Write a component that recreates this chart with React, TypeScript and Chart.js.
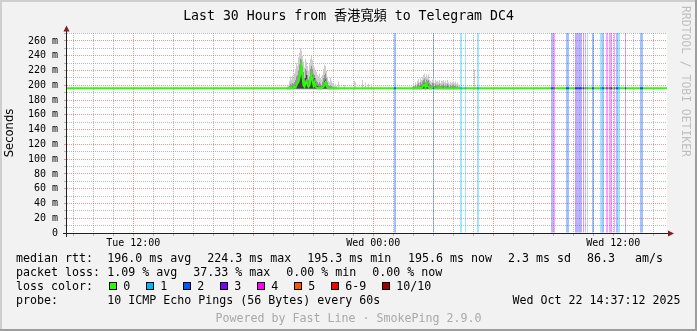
import React, { useEffect, useRef } from 'react';
import { Chart, registerables } from 'chart.js';
Chart.register(...registerables);

// ---------- text ----------
const TITLE = 'Last 30 Hours from 香港寬頻 to Telegram DC4';
const Y_TITLE = 'Seconds';
const WATERMARK = 'RRDTOOL / TOBI OETIKER';
const POWERED = 'Powered by Fast Line · SmokePing 2.9.0';

// ---------- time axis (hours since Tue 00:00) ----------
const T_START = 8.685;
const T_END = 38.685;
const STEP_H = 0.05; // one RRD step = 3 minutes
const xTickHours = [12, 24, 36];
const xTickLabels = ['Tue 12:00', 'Wed 00:00', 'Wed 12:00'];

// ---------- value axis (milliseconds) ----------
const Y_MAX = 270.8;
const yLabelStep = 20;
const yGridStep = 10;

const MEDIAN_BASE = 196;
const SMOKE_BASE = 194;

// smoke burst 1 (starting RRD step index)
const smoke1Start = 220;
const smoke1Hi = [198,200,206,212,208,213,210,216,222,230,226,238,244,250,247,240,232,224,236,232,226,220,228,236,240,234,228,224,220,218,214,212,216,210,208,214,222,228,226,220,212,206,204,210,206,203,202,200,202,199];
const smoke1Mid = [197,197,199,202,201,203,202,204,207,212,214,220,228,236,234,226,218,210,222,220,214,208,212,222,226,222,216,214,210,206,204,202,204,202,200,204,210,214,216,210,204,200,199,200,199,198,198,197,197,197];
const smoke1Core = [196,196,196,197,197,198,197,198,200,202,204,208,214,224,228,216,206,202,210,214,206,202,204,212,218,214,208,210,204,200,199,198,199,198,197,199,202,206,208,202,199,197,197,197,196,196,196,196,196,196];
const smoke1Median = [196,196,196,196,197,196,196,198,197,200,203,205,210,218,226,212,200,198,204,206,201,198,200,208,214,206,200,204,198,197,196,196,197,196,196,197,198,202,204,199,197,196,196,196,196,196,196,196,196,196];

// smoke burst 2
const smoke2Start = 345;
const smoke2Hi = [198,202,200,204,201,206,209,204,210,207,211,214,216,210,215,212,215,208,206,204,208,209,203,207,205,206,204,207,203,206,205,207,204,206,203,207,204,202,205,203,204,206,203,205,202,204,201,199];
const smoke2Mid = [197,199,198,200,198,201,203,200,204,202,205,207,209,204,208,206,207,203,201,200,203,203,199,202,200,201,200,202,199,201,200,202,199,201,199,202,200,198,200,199,200,201,199,200,198,199,197,197];
const smoke2Core = [196,197,196,197,196,197,198,197,199,198,200,202,203,199,202,201,201,198,197,197,198,198,197,198,197,197,197,198,196,197,197,198,196,197,196,198,197,196,197,196,197,197,196,197,196,196,196,196];
const smoke2Median = [196,196,196,196,196,196,197,196,197,196,198,200,201,197,202,199,198,196,196,196,197,197,196,196,196,196,196,197,196,196,196,196,196,196,196,196,196,196,196,196,196,196,196,196,196,196,196,196];

// isolated light smoke spikes
const sparkSteps = [271, 277, 287, 288, 295, 298, 301, 304, 407];
const sparkHi = [205, 200, 206, 204, 207, 204, 202, 202, 221];

// packet loss events (RRD step index, loss level index)
const lossSteps = [327,328,366,393,394,398,410,411,484,485,486,487,499,500,501,508,509,510,511,512,513,514,516,518,520,525,526,533,534,535,536,539,540,542,543,544,547,549,550,551,552,558,573,574,575];
const lossLevels = [2,2,2,1,1,1,1,1,2,2,4,4,2,2,2,3,3,2,2,3,3,2,3,4,1,2,2,1,1,2,2,4,4,4,4,3,4,2,2,1,1,3,2,2,2];

const lossColors = ['#26ff00', '#00b8ff', '#0059ff', '#7e00ff', '#ff00ff', '#ff5500', '#ff0000', '#a10000'];
const lossLabels = ['0', '1', '2', '3', '4', '5', '6-9', '10/10'];

// legend text
const rttLabel = 'median rtt:';
const rttItems = ['196.0 ms avg', '224.3 ms max', '195.3 ms min', '195.6 ms now', '2.3 ms sd', '86.3', 'am/s'];
const lossLabel = 'packet loss:';
const lossItems = ['1.09 % avg', '37.33 % max', '0.00 % min', '0.00 % now'];
const lossColorLabel = 'loss color:';
const probeLabel = 'probe:';
const probeText = '10 ICMP Echo Pings (56 Bytes) every 60s';
const stampText = 'Wed Oct 22 14:37:12 2025';

// ---------- layout / styles ----------
const MONO = '"DejaVu Sans Mono", "Noto Sans CJK TC", monospace';
const GRID_MINOR = 'rgba(140,140,140,0.6)';
const GRID_MAJOR = 'rgba(222,79,79,0.6)';
const ARROW = '#801f1f';
const AXIS = '#202020';
const rttX = [107.3, 207.3, 307.3, 408, 508, 587, 635];
const lossX = [107.3, 193.3, 286.3, 372.3];

const stepTime = (k: number) => T_START + (k + 0.5) * STEP_H;
const floatBars = (start: number, arr: number[], base: number) =>
  arr.map((v, i) => ({ x: stepTime(start + i), y: [base, v] }));
const withAlpha = (hex: string, a: string) => hex + a;

const decorPlugin = {
  id: 'rrdDecor',
  beforeDraw(chart: any) {
    const { ctx, chartArea: a, width, height } = chart;
    ctx.save();
    ctx.fillStyle = '#f2f2f2';
    ctx.fillRect(0, 0, width, height);
    ctx.fillStyle = '#ffffff';
    ctx.fillRect(a.left, a.top, a.right - a.left, a.bottom - a.top);
    ctx.restore();
  },
  afterDraw(chart: any) {
    const { ctx, chartArea: a, width, height } = chart;
    ctx.save();
    // axes
    ctx.strokeStyle = AXIS;
    ctx.lineWidth = 1;
    ctx.beginPath();
    ctx.moveTo(a.left - 4, a.bottom + 0.5);
    ctx.lineTo(a.right + 1, a.bottom + 0.5);
    ctx.moveTo(a.left - 0.5, a.bottom + 4);
    ctx.lineTo(a.left - 0.5, a.top - 2);
    ctx.stroke();
    // arrows
    ctx.fillStyle = ARROW;
    ctx.beginPath();
    ctx.moveTo(a.left - 3.5, a.top - 1.5);
    ctx.lineTo(a.left + 2.5, a.top - 1.5);
    ctx.lineTo(a.left - 0.5, a.top - 7.5);
    ctx.closePath();
    ctx.fill();
    ctx.beginPath();
    ctx.moveTo(a.right + 1, a.bottom - 2.5);
    ctx.lineTo(a.right + 1, a.bottom + 3.5);
    ctx.lineTo(a.right + 7, a.bottom + 0.5);
    ctx.closePath();
    ctx.fill();

    // title
    ctx.fillStyle = '#000';
    ctx.font = '13.2px ' + MONO;
    ctx.textAlign = 'center';
    ctx.textBaseline = 'alphabetic';
    ctx.fillText(TITLE, width / 2, 20);

    // watermark
    ctx.save();
    ctx.translate(685, 6);
    ctx.rotate(Math.PI / 2);
    ctx.font = '11.4px ' + MONO;
    ctx.fillStyle = '#bfbfbf';
    ctx.textAlign = 'left';
    ctx.textBaseline = 'middle';
    ctx.fillText(WATERMARK, 0, 0);
    ctx.restore();

    // legend
    const X0 = 16;
    const XV = 107.3;
    const CW = 7.0;
    ctx.font = '11.63px ' + MONO;
    ctx.textAlign = 'left';
    ctx.textBaseline = 'alphabetic';
    ctx.fillStyle = '#000';
    const rowY = [262, 276, 290, 304];
    ctx.fillText(rttLabel, X0, rowY[0]);
    rttItems.forEach((t, i) => ctx.fillText(t, rttX[i], rowY[0]));
    ctx.fillText(lossLabel, X0, rowY[1]);
    lossItems.forEach((t, i) => ctx.fillText(t, lossX[i], rowY[1]));
    ctx.fillText(lossColorLabel, X0, rowY[2]);
    let sx = 108.7;
    lossLabels.forEach((lab, i) => {
      const bx = Math.round(sx);
      ctx.fillStyle = lossColors[i];
      ctx.fillRect(bx, rowY[2] - 8, 8, 8);
      ctx.strokeStyle = '#000';
      ctx.lineWidth = 1;
      ctx.strokeRect(bx + 0.5, rowY[2] - 7.5, 7, 7);
      ctx.fillStyle = '#000';
      ctx.fillText(lab, sx + 14.6, rowY[2]);
      sx += 37 + (lab.length - 1) * CW;
    });
    ctx.fillText(probeLabel, X0, rowY[3]);
    ctx.fillText(probeText, XV, rowY[3]);
    ctx.fillText(stampText, 512.5, rowY[3]);
    ctx.fillStyle = '#a9a9a9';
    ctx.textAlign = 'center';
    ctx.fillText(POWERED, width / 2, 321.5);

    // frame shading
    ctx.fillStyle = '#cfcfcf';
    ctx.fillRect(0, 0, width, 2);
    ctx.fillRect(0, 0, 2, height);
    ctx.fillStyle = '#9e9e9e';
    ctx.fillRect(0, height - 2, width, 2);
    ctx.fillRect(width - 2, 0, 2, height);
    ctx.restore();
  },
};

export default function App() {
  const ref = useRef<HTMLCanvasElement | null>(null);

  useEffect(() => {
    if (!ref.current) return;

    const lossBars = lossSteps.map((k) => ({ x: stepTime(k), y: [0, Y_MAX] }));
    const lossBg = lossLevels.map((l) => withAlpha(lossColors[l], '5e'));
    const lossMarks = lossSteps.map((k) => ({ x: stepTime(k), y: [MEDIAN_BASE - 1.5, MEDIAN_BASE + 1.5] }));
    const lossFg = lossLevels.map((l) => lossColors[l]);

    const outer = [
      ...floatBars(smoke1Start, smoke1Hi, SMOKE_BASE),
      ...floatBars(smoke2Start, smoke2Hi, SMOKE_BASE),
      ...sparkSteps.map((k, i) => ({ x: stepTime(k), y: [SMOKE_BASE, sparkHi[i]] })),
    ];
    const mid = [
      ...floatBars(smoke1Start, smoke1Mid, SMOKE_BASE + 1),
      ...floatBars(smoke2Start, smoke2Mid, SMOKE_BASE + 1),
    ];
    const core = [
      ...floatBars(smoke1Start, smoke1Core, SMOKE_BASE + 1.5),
      ...floatBars(smoke2Start, smoke2Core, SMOKE_BASE + 1.5),
    ];
    const median = [
      { x: T_START, y: MEDIAN_BASE },
      ...smoke1Median.map((v, i) => ({ x: stepTime(smoke1Start + i), y: v })),
      ...smoke2Median.map((v, i) => ({ x: stepTime(smoke2Start + i), y: v })),
      { x: T_END, y: MEDIAN_BASE },
    ];

    const barCommon = {
      type: 'bar' as const,
      barThickness: 1,
      grouped: false,
      borderWidth: 0,
      inflateAmount: 0,
    };

    const yTicks: number[] = [];
    for (let v = 0; v <= Y_MAX; v += yGridStep) yTicks.push(v);
    const xTicks: number[] = [];
    for (let h = Math.ceil(T_START); h <= T_END; h++) xTicks.push(h);

    const chart = new Chart(ref.current, {
      type: 'bar',
      data: {
        datasets: [
          { ...barCommon, data: lossBars as any, backgroundColor: lossBg, order: 6 },
          { ...barCommon, data: outer as any, backgroundColor: '#cccccc', order: 5 },
          { ...barCommon, data: mid as any, backgroundColor: '#959595', order: 4 },
          { ...barCommon, data: core as any, backgroundColor: '#404040', order: 3 },
          {
            type: 'line' as const,
            data: median as any,
            borderColor: '#26ff00',
            borderWidth: 2,
            pointRadius: 0,
            fill: false,
            tension: 0,
            order: 2,
          },
          { ...barCommon, data: lossMarks as any, backgroundColor: lossFg, order: 1 },
        ] as any,
      },
      options: {
        animation: false,
        responsive: false,
        events: [],
        layout: { padding: { left: 0, right: 30, top: 33, bottom: 0 } },
        plugins: {
          legend: { display: false },
          tooltip: { enabled: false },
          title: { display: false },
        },
        scales: {
          x: {
            type: 'linear',
            min: T_START,
            max: T_END,
            offset: false,
            grid: {
              offset: false,
              lineWidth: 1,
              tickLength: 3,
              color: (c: any) => (c.tick && c.tick.value % 6 === 0 ? GRID_MAJOR : GRID_MINOR),
              tickColor: (c: any) => (c.tick && c.tick.value % 6 === 0 ? GRID_MAJOR : GRID_MINOR),
              tickBorderDash: [],
            },
            border: { display: false, dash: [1, 1] },
            ticks: {
              autoSkip: false,
              maxRotation: 0,
              minRotation: 0,
              padding: 1,
              color: '#000',
              font: { family: MONO, size: 10 },
              callback: (v: any) => {
                const i = xTickHours.indexOf(Number(v));
                return i >= 0 ? xTickLabels[i] : '';
              },
            },
            afterBuildTicks: (s: any) => {
              s.ticks = xTicks.map((value) => ({ value }));
            },
            afterFit: (s: any) => {
              s.height = 98;
            },
          },
          y: {
            type: 'linear',
            min: 0,
            max: Y_MAX,
            grid: {
              lineWidth: 1,
              tickLength: 3,
              color: (c: any) => (c.tick && c.tick.value % yLabelStep === 0 ? GRID_MAJOR : GRID_MINOR),
              tickColor: (c: any) => (c.tick && c.tick.value % yLabelStep === 0 ? GRID_MAJOR : GRID_MINOR),
              tickBorderDash: [],
            },
            border: { display: false, dash: [1, 1] },
            ticks: {
              autoSkip: false,
              padding: 6,
              color: '#000',
              font: { family: MONO, size: 10 },
              callback: (v: any) => {
                const n = Number(v);
                if (n % yLabelStep !== 0) return '';
                return n === 0 ? '0' : `${n} m`;
              },
            },
            title: {
              display: true,
              text: Y_TITLE,
              color: '#000',
              font: { family: '"DejaVu Sans", sans-serif', size: 11.6 },
              padding: { top: 3.5, bottom: 0 },
            },
            afterBuildTicks: (s: any) => {
              s.ticks = yTicks.map((value) => ({ value }));
            },
            afterFit: (s: any) => {
              s.width = 67;
            },
          },
        },
      } as any,
      plugins: [decorPlugin],
    });

    return () => chart.destroy();
  }, []);

  return (
    <div style={{ position: 'fixed', left: 0, top: 0, width: 697, height: 331 }}>
      <canvas ref={ref} width={697} height={331} style={{ display: 'block', width: 697, height: 331 }} />
    </div>
  );
}
